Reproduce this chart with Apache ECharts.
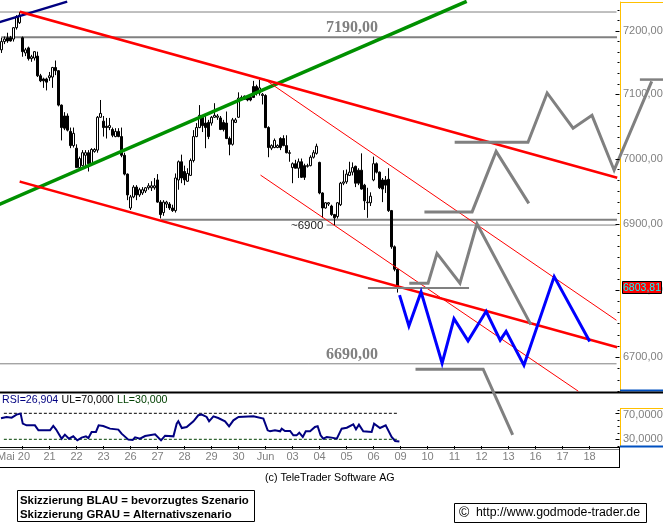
<!DOCTYPE html>
<html><head><meta charset="utf-8">
<script src="https://cdn.jsdelivr.net/npm/echarts@6/dist/echarts.min.js"></script>
<style>html,body{margin:0;padding:0;background:#fff}#c{width:663px;height:525px}</style>
</head><body><div id="c"></div>
<script>
// hourly bars: [open, close, low, high]
const candles = [
[7170,7183,7165,7189],[7183,7187,7179,7191],[7189,7184,7181,7197],[7189,7184,7183,7192],[7187,7205,7183,7206],
[7205,7222,7202,7225],[7213,7225,7211,7230],[7189,7167,7159,7191],[7165,7170,7160,7173],[7173,7156,7153,7175],
[7156,7159,7151,7162],[7157,7167,7153,7168],[7160,7129,7127,7167],[7129,7121,7119,7132],[7124,7121,7110,7126],
[7124,7119,7106,7126],[7126,7129,7121,7135],[7127,7142,7110,7143],[7142,7137,7130,7153],[7137,7083,7081,7138],
[7083,7048,7028,7084],[7066,7047,7044,7072],[7066,7044,7042,7070],[7042,7020,7016,7048],[7020,7039,7017,7048],
[7016,6986,6986,7022],[6986,7000,6982,7003],[6989,7009,6988,7013],[7005,7009,6986,7013],[7009,6992,6980,7013],
[6992,7014,6989,7016],[7011,7014,7009,7016],[7013,7064,7009,7066],[7064,7070,7063,7091],[7058,7048,7034,7066],
[7050,7048,7031,7063],[7048,7051,7044,7063],[7045,7036,7033,7048],[7034,7042,7033,7047],[7042,7034,7033,7047],
[7034,7005,7002,7048],[7005,6976,6974,7009],[6976,6944,6936,6977],[6924,6941,6921,6944],[6941,6956,6939,6959],
[6956,6944,6936,6959],[6944,6952,6941,6955],[6947,6952,6944,6956],[6950,6955,6947,6956],[6955,6958,6952,6962],
[6955,6958,6950,6965],[6955,6958,6952,6970],[6967,6933,6932,6976],[6933,6914,6908,6936],[6917,6933,6912,6936],
[6930,6933,6924,6935],[6930,6924,6921,6933],[6924,6920,6918,6929],[6920,6970,6917,6977],[6967,6995,6952,6997],
[6995,6970,6962,7006],[6980,6967,6959,6989],[6965,6977,6964,6985],[6974,6997,6973,7000],[6997,7034,6994,7044],
[7034,7048,7033,7055],[7048,7067,7047,7083],[7064,7051,7041,7066],[7055,7048,7016,7067],[7056,7034,7030,7060],
[7055,7064,7051,7066],[7064,7067,7063,7086],[7064,7066,7060,7069],[7063,7045,7044,7066],[7056,7045,7042,7060],
[7055,7031,7030,7073],[7031,7022,7005,7034],[7022,7060,7020,7063],[7056,7060,7055,7063],[7064,7094,7063,7103],
[7092,7095,7091,7098],[7097,7092,7091,7098],[7095,7091,7089,7097],[7095,7091,7089,7098],[7112,7095,7094,7121],
[7112,7102,7098,7115],[7102,7110,7098,7123],[7098,7100,7084,7102],[7098,7048,7047,7100],[7048,7017,7002,7050],
[7016,7020,7013,7022],[7017,7028,7016,7031],[7017,7020,7016,7022],[7031,7017,7013,7033],[7031,7020,7019,7036],
[7020,7009,7008,7036],[7008,7009,6995,7013],[6986,6992,6962,6994],[6992,6985,6985,6998],[6985,6995,6970,7000],
[6995,6971,6970,7000],[6989,6971,6967,6992],[6988,6989,6986,6992],[6989,7002,6988,7005],[7002,7009,7000,7013],
[7008,7019,7006,7023],[6994,6947,6945,6995],[6947,6924,6909,6948],[6924,6932,6923,6933],[6930,6932,6927,6933],
[6927,6914,6912,6929],[6914,6909,6898,6915],[6911,6932,6908,6933],[6929,6962,6927,6964],[6962,6964,6959,6982],
[6964,6976,6961,6983],[6974,6979,6973,6995],[6979,6986,6974,6994],[6988,6962,6956,6989],[6982,6962,6959,6985],
[6982,6953,6952,7008],[6959,6935,6921,6961],[6932,6933,6909,6955],[6932,6942,6927,6948],[6967,6992,6965,7003],
[6992,6979,6977,6994],[6979,6955,6953,6980],[6967,6953,6933,6970],[6967,6959,6947,6973],[6968,6920,6918,6985],
[6920,6865,6862,6921],[6865,6831,6828,6867],[6831,6805,6796,6832]
];
const dayLabels = ['Mai 20','21','22','23','26','27','28','29','30','Jun','03','04','05','06','09','10','11','12','13','16','17','18'];
const priceLabels = [7200,7100,7000,6900,6800,6700];
const rsiLabels = [70,30];
const lastPrice = '6803,81';

// RSI: x in trading days after Mai 20
const rsiDays = [-0.76,-0.59,-0.40,-0.22,-0.07,0.01,0.15,0.46,0.59,1.02,1.14,1.24,1.45,1.57,1.72,1.88,2.03,2.19,2.35,2.44,2.56,2.72,2.82,2.99,3.24,3.55,3.67,3.92,4.08,4.17,
4.35,4.54,4.91,5.13,5.28,5.59,5.71,5.77,5.9,6.08,6.33,6.51,6.64,6.82,6.91,7.07,7.25,7.5,7.65,7.81,8.0,8.55,8.92,9.08,9.17,
9.35,9.54,9.6,9.72,9.91,10.03,10.15,10.25,10.38,10.49,10.65,10.83,10.93,11.04,11.14,11.27,11.45,11.64,11.82,12.01,12.25,12.35,12.46,12.62,12.93,13.02,13.24,13.45,13.67,13.8,13.92];
const rsiValues = [62.8,64.4,63.3,68,69.5,54.1,51.5,51.5,43.8,43.8,50.5,45.4,31,37.2,31,34.6,28.4,32.6,34.6,32,41.3,41.3,51.5,50.5,46.4,44.9,38.7,29.5,29,33.1,
31,35.1,37.7,28.4,35.6,34.6,54.1,57.7,47.4,49,57.7,67,68,64.4,57.7,65.4,62.8,57.7,50,59.2,64.4,65.4,61.8,43.8,42.3,
43.8,42.3,46.4,42.8,42.8,36.1,36.1,40.2,33.6,42.3,42.3,49,50,36.1,31,33.6,32.6,31,46.4,47.9,53,45.4,52.6,42.3,41.3,54.1,47.4,51.5,33.6,27.4,26.9];

// horizontal levels: [price, from day, to day]
const thickLevels = [[7190,-0.75,21.98],[6906,5.17,21.98]];
const thinLevels = [[7230,-0.83,21.98],[6898,11.28,21.98],[6690,-0.83,21.98]];

// trend lines, points as [day, price]
const navyLine = [[-0.833,7214],[1.61,7246]];
const greenLine = [[-0.833,6930],[16.39,7246]];
const redUpper = [[-0.06,7230],[21.98,6971]];
const redLower = [[-0.06,6964],[21.98,6715]];
const thinUpper = [[8.98,7123],[21.98,6755]];
const thinLower = [[8.83,6974],[20.57,6650]];

// grey (alternative) and blue (preferred) scenario sketches
const greyA = [[16.06,7025],[18.72,7025],[19.43,7102],[20.39,7047],[21.09,7067],[21.91,6982],[23.28,7118]];
const greyA2 = [[22.91,7123],[23.72,7123]];
const greyB = [[14.94,6918],[16.65,6918],[17.54,7011],[18.72,6933]];
const greyC = [[14.38,6810],[15.02,6810],[15.35,6855],[16.2,6810],[16.83,6900],[18.8,6750]];
const greyD = [[12.83,6803],[16.5,6803]];
const greyE = [[14.61,6682],[17.06,6682],[18.13,6588]];
const blueLine = [[13.98,6790],[14.31,6746],[14.76,6797],[15.54,6691],[15.98,6757],[16.5,6724],[17.17,6768],[17.69,6725],[17.91,6738],[18.57,6688],[19.69,6820],[20.98,6725]];

const FONT = '"Liberation Sans", Arial, sans-serif';
const SLOTS = 221, FIRST_TICK = 7, PER_DAY = 9;
const DAY_MIN = -0.8333, DAY_MAX = 23.72, AXIS_DAY = 22.13;
const categories = Array.from({length:SLOTS},()=> '');
dayLabels.forEach((t,i)=>{ categories[i===0 ? 4 : FIRST_TICK+i*PER_DAY] = t; });

const chart = echarts.init(document.getElementById('c'),null,{renderer:'canvas'});

const priceTicks = [];
for (let s=-3;s<=33;s++) priceTicks.push([7200-s*100/6, s%6===0 ? 4 : 2]);
const rsiTicks = [[70,4],[30,4],[75,2],[60,2],[50,2],[40,2],[20,2]];

function ticks(xIdx,yIdx,data){
  return {type:'custom',xAxisIndex:xIdx,yAxisIndex:yIdx,clip:false,silent:true,z:6,data,
    encode:{x:-1,y:0},
    renderItem(p,api){
      const pt=api.coord([AXIS_DAY,api.value(0)]), len=api.value(1);
      const x=Math.round(pt[0])-0.5, yy=Math.round(pt[1])+0.5;
      return {type:'line',shape:{x1:x-len,y1:yy,x2:x,y2:yy},style:{stroke:'#000',lineWidth:1}};
    }};
}
function line(data,color,width,z,x,y){
  return {type:'line',xAxisIndex:x===undefined?1:x,yAxisIndex:y===undefined?0:y,data,showSymbol:false,symbol:'none',clip:false,silent:true,z:z||4,
    lineStyle:{color,width,cap:'square',join:'miter'},animation:false};
}
function seg(l){return [[l[1],l[0]],[l[2],l[0]]];}

const series = [
  ...thinLevels.map(l=>line(seg(l),'#808080',1,3)),
  ...thickLevels.map(l=>line(seg(l),'#808080',2,3)),
  {type:'candlestick',xAxisIndex:0,yAxisIndex:0,data:candles,barWidth:3,z:3,silent:true,
    itemStyle:{color:'#fff',color0:'#000',borderColor:'#000',borderColor0:'#000',borderWidth:1}},
  line(navyLine,'#000080',2.5),
  line(greenLine,'#009000',3.5),
  line(redUpper,'#ff0000',2.5),
  line(redLower,'#ff0000',2.5),
  line(thinUpper,'#ff0000',1),
  line(thinLower,'#ff0000',1),
  line(greyA,'#808080',3,5),line(greyA2,'#808080',2.5,5),line(greyB,'#808080',3,5),
  line(greyC,'#808080',3,5),line(greyD,'#808080',2,5),line(greyE,'#808080',3,5),
  line(blueLine,'#0000ff',3,5),
  line(rsiDays.map((d,i)=>[d,rsiValues[i]]),'#000080',2,4,3,1),
  {...line([[-0.69,70],[13.91,70]],'#000',1,3,3,1),lineStyle:{color:'#000',width:1,type:[3,2]}},
  {...line([[-0.69,30],[13.91,30]],'#004000',1,3,3,1),lineStyle:{color:'#004000',width:1,type:[3,2]}},
  ticks(1,0,priceTicks),
  ticks(3,1,rsiTicks)
];

function hLine(x1,x2,y,color,w,z){return {type:'line',silent:true,z:z||1,shape:{x1,y1:y,x2,y2:y},style:{stroke:color,lineWidth:w}};}
function vLine(x,y1,y2,color,w,z){return {type:'line',silent:true,z:z||1,shape:{x1:x,y1,x2:x,y2},style:{stroke:color,lineWidth:w}};}
function txt(x,y,text,o){return {type:'text',silent:true,z:10,x,y,style:Object.assign({text,fill:'#000',font:'11px '+FONT,textVerticalAlign:'middle',verticalAlign:'middle'},o||{})};}

const graphic = [
  hLine(620,663,2.5,'#ffc000',1),
  hLine(620,663,390.5,'#0050c0',2),
  hLine(0,663,392.5,'#000',2.2),
  hLine(620,663,408.5,'#ffc000',1),
  vLine(620.5,408,446,'#ffc000',1),
  hLine(620,663,446.5,'#0050c0',2),
  hLine(0,620,447.5,'#000',1),
  hLine(0,620,449.5,'#808080',1),
  hLine(0,620,467.5,'#000',1),
  vLine(619.5,447,468,'#000',1),
  txt(326,28,'7190,00',{fill:'#808080',font:'bold 16px "Liberation Serif", serif'}),
  txt(326,355,'6690,00',{fill:'#808080',font:'bold 16px "Liberation Serif", serif'}),
  txt(291,226,'~6900',{font:'11.5px '+FONT,fill:'#202020'}),
  {type:'text',silent:true,z:10,x:2,y:400.5,style:{
    text:'{a|RSI=26,904} {b|UL=70,000} {c|LL=30,000}',verticalAlign:'middle',
    rich:{a:{fill:'#000080',font:'10.6px '+FONT},b:{fill:'#000',font:'10.6px '+FONT},c:{fill:'#004000',font:'10.6px '+FONT}}}},
  {type:'rect',silent:true,z:9,shape:{x:622.5,y:281.5,width:39,height:12},style:{fill:'#ff0000',stroke:'#000',lineWidth:1}},
  txt(642,287.7,lastPrice,{fill:'#00ffff',textAlign:'center',align:'center',font:'10.5px '+FONT}),
  txt(265,478,'(c) TeleTrader Software AG',{font:'10.7px '+FONT}),
  {type:'rect',silent:true,z:9,shape:{x:17.5,y:490.5,width:237,height:31},style:{fill:'#fff',stroke:'#000',lineWidth:1}},
  txt(20,501,'Skizzierung BLAU = bevorzugtes Szenario',{font:'bold 11.4px '+FONT}),
  txt(20,514.5,'Skizzierung GRAU = Alternativszenario',{font:'bold 11.4px '+FONT}),
  {type:'rect',silent:true,z:9,shape:{x:454.5,y:503.5,width:192,height:19},style:{fill:'#fff',stroke:'#000',lineWidth:1}},
  txt(459,513,'©',{font:'14px '+FONT}),
  txt(476,513,'http://www.godmode-trader.de',{font:'12.3px '+FONT})
];

const priceFmt = v => Number(v).toFixed(2).replace('.',',');
chart.setOption({
  animation:false,
  backgroundColor:'#fff',
  tooltip:{show:false},
  legend:{show:false},
  grid:[
    {left:0,top:2,width:663,height:390,containLabel:false,outerBoundsMode:'none'},
    {left:0,top:394,width:663,height:52,containLabel:false,outerBoundsMode:'none'}
  ],
  xAxis:[
    {type:'category',gridIndex:0,data:categories,show:false,boundaryGap:true},
    {type:'value',gridIndex:0,min:DAY_MIN,max:DAY_MAX,show:false},
    {type:'category',gridIndex:1,data:categories,boundaryGap:true,position:'bottom',
      axisLine:{show:false},
      axisTick:{show:true,alignWithLabel:true,length:3,lineStyle:{color:'#000'},
        interval:i=>i>=FIRST_TICK && (i-FIRST_TICK)%PER_DAY===0 && (i-FIRST_TICK)/PER_DAY<dayLabels.length},
      axisLabel:{show:true,color:'#808080',fontSize:11,fontFamily:'"Liberation Sans"',margin:5,hideOverlap:false,
        interval:(i,v)=>v!==''}},
    {type:'value',gridIndex:1,min:DAY_MIN,max:DAY_MAX,show:false}
  ],
  yAxis:[
    {type:'log',logBase:10,gridIndex:0,position:'right',offset:-43,min:6648.5,max:7246,splitLine:{show:false},minorTick:{show:false},minorSplitLine:{show:false},
      axisLine:{show:true,onZero:false,lineStyle:{color:'#ffc000',width:1}},axisTick:{show:false},
      axisLabel:{show:true,color:'#808080',fontSize:11,fontFamily:'"Liberation Sans"',margin:3,customValues:priceLabels,formatter:priceFmt,showMinLabel:true,showMaxLabel:true,hideOverlap:false}},
    {type:'value',gridIndex:1,position:'right',offset:-43,min:19.7,max:99.7,splitLine:{show:false},
      axisLine:{show:false,onZero:false},axisTick:{show:false},
      axisLabel:{show:true,color:'#808080',fontSize:11,fontFamily:'"Liberation Sans"',margin:3,customValues:rsiLabels,
        formatter:v=>{const s=Number(v).toFixed(4).replace('.',',');return v>=70?'{d|'+s+'}':s;},
        rich:{d:{color:'#808080',fontSize:11,fontFamily:'"Liberation Sans"',padding:[4,0,0,0]}}}}
  ],
  series,
  graphic
});
</script></body></html>
